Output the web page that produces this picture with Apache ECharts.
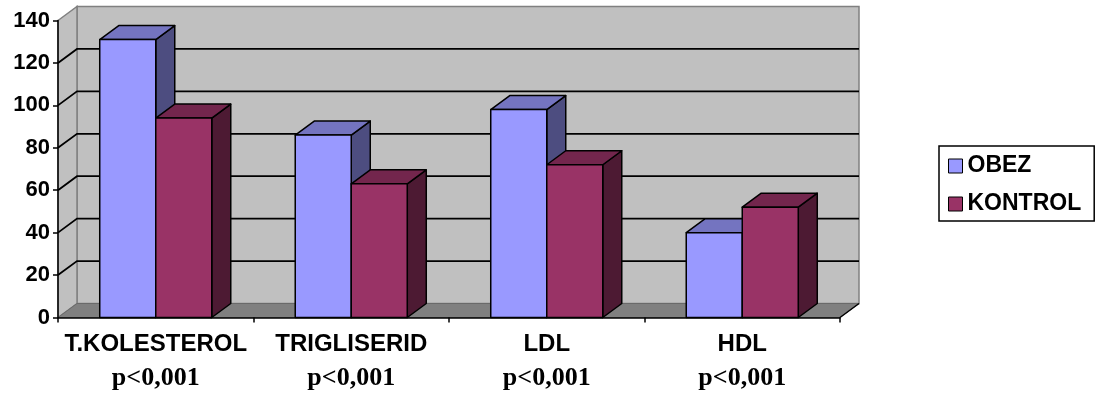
<!DOCTYPE html>
<html>
<head>
<meta charset="utf-8">
<script src="https://cdn.jsdelivr.net/npm/echarts@6/dist/echarts.min.js"></script>
<style>
  html, body { margin: 0; padding: 0; background: #fff; }
  #chart { width: 1099px; height: 394px; }
</style>
</head>
<body>
<div id="chart"></div>
<script>
// Lipid values per group
const categories = ['T.KOLESTEROL', 'TRIGLISERID', 'LDL', 'HDL'];
const pLabels = ['p<0,001', 'p<0,001', 'p<0,001', 'p<0,001'];
const seriesNames = ['OBEZ', 'KONTROL'];
const obez = [131, 86, 98, 40];
const kontrol = [94, 63, 72, 52];
const yMin = 0;
const yMax = 140;
const yStep = 20;

// 3D depth offset of the back plane, and bar styling
const DX = 19, DY = -14;
const BAR_FRACTION = 0.2865;
const palettes = [
  { front: '#9999FF', top: '#7474C0', side: '#4D4D80' },
  { front: '#993366', top: '#73264D', side: '#4D1A33' }
];
const FONT = '"Liberation Sans", Arial, sans-serif';
const SERIF = '"Liberation Serif", "Times New Roman", serif';

function renderWalls(params, api) {
  const cs = params.coordSys;
  const x0 = cs.x, x1 = cs.x + cs.width;
  const yb = api.coord([0, yMin])[1];
  const yt = api.coord([0, yMax])[1];
  const children = [];
  // back wall
  children.push({
    type: 'polygon',
    shape: { points: [[x0 + DX, yt + DY], [x1 + DX, yt + DY], [x1 + DX, yb + DY], [x0 + DX, yb + DY]] },
    style: { fill: '#C0C0C0', stroke: '#808080', lineWidth: 1.5 }
  });
  // left side wall
  children.push({
    type: 'polygon',
    shape: { points: [[x0, yt], [x0 + DX, yt + DY], [x0 + DX, yb + DY], [x0, yb]] },
    style: { fill: '#C0C0C0', stroke: '#808080', lineWidth: 1.5 }
  });
  // floor
  children.push({
    type: 'polygon',
    shape: { points: [[x0, yb], [x1, yb], [x1 + DX, yb + DY], [x0 + DX, yb + DY]] },
    style: { fill: '#808080', stroke: '#6a6a6a', lineWidth: 1 }
  });
  children.push({
    type: 'line',
    shape: { x1: x1, y1: yb, x2: x1 + DX, y2: yb + DY },
    style: { stroke: '#000', lineWidth: 1.5 }
  });
  // gridlines on side and back walls
  for (let v = yMin + yStep; v < yMax; v += yStep) {
    const y = api.coord([0, v])[1];
    children.push({
      type: 'polyline',
      shape: { points: [[x0, y], [x0 + DX, y + DY], [x1 + DX, y + DY]] },
      style: { stroke: '#000', lineWidth: 1.8, fill: null }
    });
  }
  return { type: 'group', children: children };
}

function makeBarRenderer(sideIndex) {
  const pal = palettes[sideIndex];
  return function (params, api) {
    const idx = api.value(0);
    const val = api.value(1);
    const top = api.coord([idx, val]);
    const base = api.coord([idx, 0]);
    const band = api.size([1, 0])[0];
    const w = band * BAR_FRACTION;
    const xl = sideIndex === 0 ? top[0] - w : top[0];
    const xr = xl + w;
    const yt = top[1], yb = base[1];
    const stroke = { stroke: '#000', lineWidth: 1.5, lineJoin: 'round' };
    return {
      type: 'group',
      children: [
        {
          type: 'polygon',
          shape: { points: [[xr, yt], [xr + DX, yt + DY], [xr + DX, yb + DY], [xr, yb]] },
          style: Object.assign({ fill: pal.side }, stroke)
        },
        {
          type: 'polygon',
          shape: { points: [[xl, yt], [xr, yt], [xr + DX, yt + DY], [xl + DX, yt + DY]] },
          style: Object.assign({ fill: pal.top }, stroke)
        },
        {
          type: 'polygon',
          shape: { points: [[xl, yt], [xr, yt], [xr, yb], [xl, yb]] },
          style: Object.assign({ fill: pal.front }, stroke)
        }
      ]
    };
  };
}

const chart = echarts.init(document.getElementById('chart'), null, { renderer: 'canvas' });

chart.setOption({
  backgroundColor: '#fff',
  animation: false,
  grid: { left: 58, right: 259, top: 20.5, bottom: 76.5, containLabel: false },
  legend: {
    data: seriesNames,
    orient: 'vertical',
    left: 939,
    top: 146,
    padding: [8, 13, 5, 9],
    itemGap: 14,
    itemWidth: 14,
    itemHeight: 14,
    icon: 'rect',
    selectedMode: false,
    borderColor: '#000',
    borderWidth: 1.5,
    itemStyle: { borderColor: '#000', borderWidth: 1 },
    textStyle: { fontFamily: FONT, fontWeight: 'bold', fontSize: 23, color: '#000', lineHeight: 24 }
  },
  xAxis: {
    type: 'category',
    data: categories,
    z: 5,
    boundaryGap: true,
    axisLine: { lineStyle: { color: '#000', width: 1.5 } },
    axisTick: { show: true, interval: 0, length: 5, lineStyle: { color: '#000', width: 1.5 } },
    axisLabel: {
      interval: 0,
      margin: 13,
      formatter: function (value, i) { return '{a|' + value + '}\n{b|' + pLabels[i] + '}'; },
      rich: {
        a: { fontFamily: FONT, fontWeight: 'bold', fontSize: 24, lineHeight: 28, color: '#000' },
        b: { fontFamily: SERIF, fontWeight: 'bold', fontSize: 26, lineHeight: 40, color: '#000' }
      }
    },
    splitLine: { show: false }
  },
  yAxis: {
    type: 'value',
    min: yMin,
    max: yMax,
    interval: yStep,
    z: 5,
    axisLine: { show: true, lineStyle: { color: '#000', width: 1.5 } },
    axisTick: { show: true, length: 5, lineStyle: { color: '#000', width: 1.5 } },
    axisLabel: { fontFamily: FONT, fontWeight: 'bold', fontSize: 22, color: '#000', margin: 8 },
    splitLine: { show: false }
  },
  series: [
    {
      type: 'custom',
      name: 'walls',
      renderItem: renderWalls,
      data: [[0, 0]],
      encode: { x: 0, y: 1 },
      z: 1,
      silent: true
    },
    {
      type: 'custom',
      name: seriesNames[0],
      renderItem: makeBarRenderer(0),
      itemStyle: { color: palettes[0].front },
      data: obez.map(function (v, i) { return [i, v]; }),
      encode: { x: 0, y: 1 },
      z: 2
    },
    {
      type: 'custom',
      name: seriesNames[1],
      renderItem: makeBarRenderer(1),
      itemStyle: { color: palettes[1].front },
      data: kontrol.map(function (v, i) { return [i, v]; }),
      encode: { x: 0, y: 1 },
      z: 3
    }
  ]
});
</script>
</body>
</html>
